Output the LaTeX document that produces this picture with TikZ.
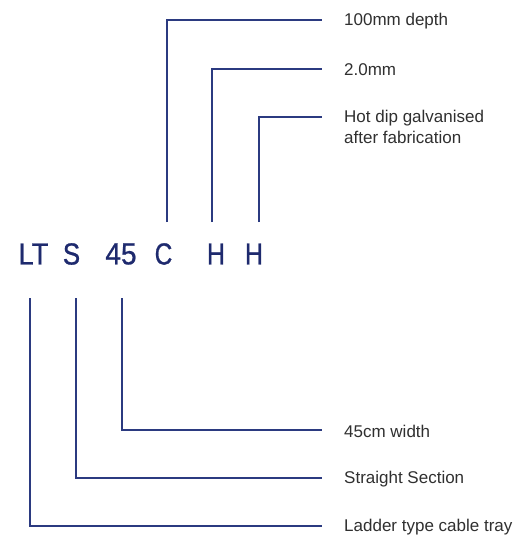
\documentclass[tikz,border=0pt]{standalone}
\usepackage{fontspec}
\setmainfont{Liberation Sans}
\newfontfamily\codefont[FakeBold=0.8]{Liberation Sans}
\definecolor{navy}{HTML}{1E2A6E}
\definecolor{linec}{HTML}{2B3A80}
\definecolor{lbl}{HTML}{303030}
\begin{document}
\begin{tikzpicture}[x=1pt,y=-1pt,
  code/.style={inner sep=0pt,text=navy,font=\codefont\fontsize{30.5}{32}\selectfont},
  label/.style={inner sep=0pt,anchor=west,text=lbl,font=\fontsize{17}{21}\selectfont,align=left},
  conn/.style={draw=linec,line width=1.4pt}]
\useasboundingbox[fill=white] (0,0) rectangle (523,539);
% code letters
\node[code] (LT) at (33.5,254) {\scalebox{0.9}[1]{LT}};
\node[code] (S) at (71.5,254) {\scalebox{0.85}[1]{S}};
\node[code] (N45) at (121,254) {\scalebox{0.92}[1]{45}};
\node[code] (C) at (163.5,254) {\scalebox{0.8}[1]{C}};
\node[code] (H1) at (216,254) {\scalebox{0.82}[1]{H}};
\node[code] (H2) at (254,254) {\scalebox{0.82}[1]{H}};
% labels
\node[label] (depth) at (344,21) {100mm depth};
\node[label] (thick) at (344,70) {2.0mm};
\node[label,anchor=north west] (galv) at (344,110) {Hot dip galvanised\\after fabrication};
\node[label] (width) at (344,431) {45cm width};
\node[label] (straight) at (344,479) {Straight Section};
\node[label] (ladder) at (344,527) {Ladder type cable tray};
% line ends near the code letters
\coordinate (cC) at (167,222);
\coordinate (cH1) at (212,222);
\coordinate (cH2) at (259,222);
\coordinate (cLT) at (30,298);
\coordinate (cS) at (76,298);
\coordinate (c45) at (122,298);
% line ends near the labels
\coordinate (eDepth) at (322,20);
\coordinate (eThick) at (322,69);
\coordinate (eGalv) at (322,117);
\coordinate (eWidth) at (322,430);
\coordinate (eStraight) at (322,478);
\coordinate (eLadder) at (322,526);
% connectors
\draw[conn] (cC) |- (eDepth);
\draw[conn] (cH1) |- (eThick);
\draw[conn] (cH2) |- (eGalv);
\draw[conn] (c45) |- (eWidth);
\draw[conn] (cS) |- (eStraight);
\draw[conn] (cLT) |- (eLadder);
\end{tikzpicture}
\end{document}
